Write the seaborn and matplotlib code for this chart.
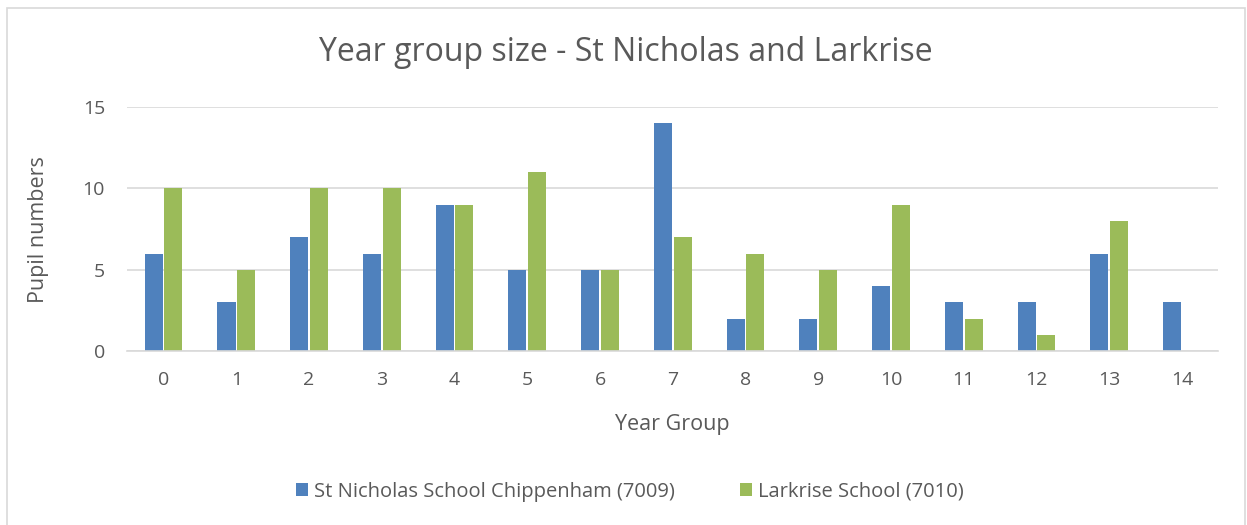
import pandas as pd
import seaborn as sns
import matplotlib.pyplot as plt
from matplotlib.patches import Rectangle

# Dados do gráfico
year_groups = [str(i) for i in range(15)]
st_nicholas = [6, 3, 7, 6, 9, 5, 5, 14, 2, 2, 4, 3, 3, 6, 3]
larkrise = [10, 5, 10, 10, 9, 11, 5, 7, 6, 5, 9, 2, 1, 8, 0]
series_names = ["St Nicholas School Chippenham (7009)", "Larkrise School (7010)"]
colors = ["#4F81BD", "#9BBB59"]

df = pd.DataFrame({
    "Year Group": year_groups * 2,
    "Pupils": st_nicholas + larkrise,
    "School": [series_names[0]] * 15 + [series_names[1]] * 15,
})

sns.set_theme(style="white")
plt.rcParams["font.family"] = ["Open Sans", "DejaVu Sans"]
text_color = "#595959"

fig = plt.figure(figsize=(12.47, 5.25), dpi=100)
ax = fig.add_axes([0.102, 0.331, 0.875, 0.465])

sns.barplot(data=df, x="Year Group", y="Pupils", hue="School",
            order=year_groups, hue_order=series_names, palette=colors,
            width=0.54, gap=0.08, saturation=1, linewidth=0,
            ax=ax, legend=True)

ax.set_ylim(0, 15)
ax.set_yticks([0, 5, 10, 15])
ax.set_xlim(-0.5, 14.5)
ax.grid(axis="y", color="#D9D9D9", linewidth=1.2)
ax.set_axisbelow(True)
for s in ["top", "right", "left"]:
    ax.spines[s].set_visible(False)
ax.spines["bottom"].set_color("#D9D9D9")
ax.spines["bottom"].set_linewidth(1.2)
ax.tick_params(length=0, labelsize=14, labelcolor=text_color)
ax.tick_params(axis="x", pad=14)
ax.tick_params(axis="y", pad=16)

ax.set_xlabel("Year Group", fontsize=15.5, color=text_color, labelpad=18)
ax.set_ylabel("Pupil numbers", fontsize=15.5, color=text_color, labelpad=24)
fig.text(0.502, 0.90, "Year group size - St Nicholas and Larkrise",
         ha="center", va="center", fontsize=23, color=text_color)

handles, labels = ax.get_legend_handles_labels()
ax.get_legend().remove()
fig.legend(handles, labels, loc="center", bbox_to_anchor=(0.505, 0.063),
           ncol=2, frameon=False, fontsize=14.5, labelcolor=text_color,
           handlelength=0.6, handleheight=0.6, handletextpad=0.3,
           columnspacing=3.2)

# Moldura do gráfico
fig.patches.append(Rectangle((7 / 1247, -0.05), 1238 / 1247, 1 - 8 / 525 + 0.05,
                             transform=fig.transFigure, fill=False,
                             edgecolor="#D9D9D9", linewidth=1.2))

fig.savefig("out.png", dpi=100)
